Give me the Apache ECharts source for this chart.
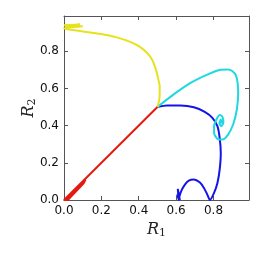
<!DOCTYPE html>
<html><head><meta charset="utf-8">
<script src="https://cdn.jsdelivr.net/npm/echarts@6/dist/echarts.min.js"></script>
<style>html,body{margin:0;padding:0;background:#fff}#c{width:266px;height:253px}</style>
</head><body><div id="c"></div>
<script>
// Tick labels
const xTicks = [0.0, 0.2, 0.4, 0.6, 0.8];
const yTicks = [0.0, 0.2, 0.4, 0.6, 0.8];
// Trajectories [R1, R2]
const yellowPath = [[0.5,0.5],[0.508,0.53],[0.512,0.559],[0.512,0.612],[0.501,0.666],[0.489,0.711],[0.471,0.756],[0.444,0.792],[0.408,0.823],[0.354,0.851],[0.282,0.875],[0.192,0.894],[0.102,0.907],[0.013,0.92],[0.0,0.925],[0.1,0.935],[0.01,0.932],[0.085,0.944],[0.0,0.94],[0.05,0.942],[0.005,0.937]];
const cyanPath = [[0.5,0.5],[0.587,0.568],[0.677,0.63],[0.767,0.675],[0.839,0.701],[0.875,0.702],[0.902,0.693],[0.92,0.67],[0.929,0.63],[0.932,0.577],[0.925,0.487],[0.905,0.406],[0.878,0.352],[0.848,0.325],[0.821,0.329],[0.803,0.361],[0.803,0.397],[0.817,0.436],[0.833,0.458],[0.848,0.447],[0.853,0.418],[0.842,0.397],[0.832,0.411],[0.839,0.433],[0.845,0.415],[0.838,0.42]];
const bluePath = [[0.5,0.5],[0.551,0.508],[0.623,0.508],[0.695,0.499],[0.753,0.474],[0.794,0.442],[0.821,0.397],[0.833,0.334],[0.839,0.253],[0.833,0.163],[0.821,0.092],[0.803,0.038],[0.781,0.0],[0.767,0.029],[0.749,0.065],[0.726,0.095],[0.695,0.11],[0.668,0.104],[0.647,0.083],[0.629,0.052],[0.618,0.02],[0.614,0.0],[0.609,0.06],[0.62,0.0],[0.605,0.03],[0.615,0.0]];
const redPath = [[0.5,0.5],[0.25,0.25],[0.0,0.0],[0.115,0.11],[0.105,0.09],[0.02,0.0],[0.0,0.0],[0.09,0.08],[0.01,0.0],[0.05,0.04],[0.0,0.0]];

const lw = 2;
const chart = echarts.init(document.getElementById('c'), null, {renderer:'canvas'});
const fmt = v => (Math.abs(v % 0.2) < 1e-6 || Math.abs(0.2 - v % 0.2) < 1e-6) ? v.toFixed(1) : '';
const axisCommon = {
  type:'value', min:0, max:0.99, interval:0.2,
  axisLine:{show:true, onZero:false, lineStyle:{color:'#555', width:1}},
  axisTick:{show:true, inside:true, length:4, lineStyle:{color:'#555'}},
  splitLine:{show:false}
};
const nameRich = {
  i:{fontFamily:'DejaVu Serif', fontStyle:'italic', fontSize:16, color:'#222'},
  s:{fontFamily:'DejaVu Serif', fontSize:11, color:'#222', padding:[8,0,0,0]}
};
const lblStyle = {show:true, margin:5, fontFamily:'DejaVu Sans', fontSize:12, color:'#111', formatter:fmt, showMaxLabel:false};
chart.setOption({
  animation:false,
  grid:{left:64, right:17, top:16, bottom:53},
  xAxis:[
    Object.assign({}, axisCommon, {position:'bottom', axisLabel:lblStyle,
      name:'{i|R}{s|1}', nameLocation:'middle', nameGap:20, nameMoveOverlap:false, nameTextStyle:{rich:nameRich}}),
    Object.assign({}, axisCommon, {position:'top', axisLabel:{show:false}})
  ],
  yAxis:[
    Object.assign({}, axisCommon, {position:'left', axisLabel:lblStyle,
      name:'{i|R}{s|2}', nameLocation:'middle', nameGap:26, nameMoveOverlap:false, nameTextStyle:{rich:nameRich}}),
    Object.assign({}, axisCommon, {position:'right', axisLabel:{show:false}})
  ],
  series:[
    {type:'line', data:bluePath, showSymbol:false, smooth:0.25, lineStyle:{color:'#1414e8', width:lw}},
    {type:'line', data:cyanPath, showSymbol:false, smooth:0.25, lineStyle:{color:'#1ed8e2', width:lw}},
    {type:'line', data:yellowPath, showSymbol:false, smooth:0.15, lineStyle:{color:'#e6e21e', width:lw}},
    {type:'line', data:redPath, showSymbol:false, smooth:false, lineStyle:{color:'#e41a10', width:lw}}
  ]
});
</script></body></html>
